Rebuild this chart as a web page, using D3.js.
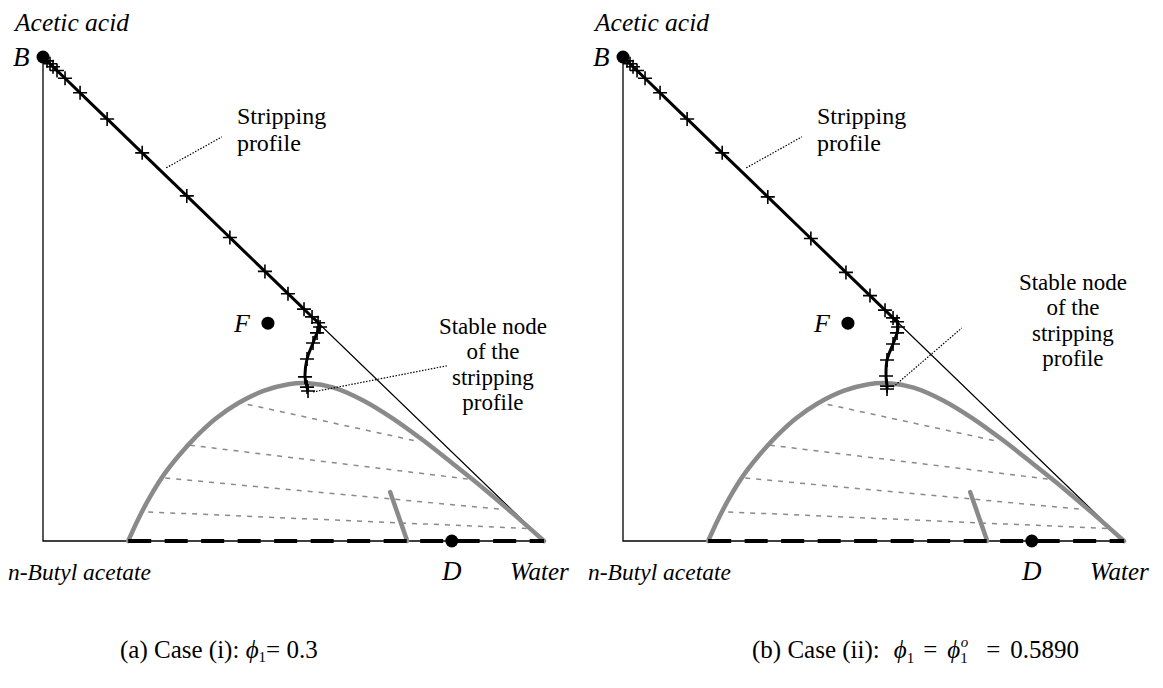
<!DOCTYPE html>
<html>
<head>
<meta charset="utf-8">
<script src="https://cdn.jsdelivr.net/npm/d3@7"></script>
<style>
  html, body { margin: 0; padding: 0; background: #fff; }
  svg { display: block; }
</style>
</head>
<body>
<svg id="chart" width="1163" height="688"></svg>
<script>
// Composition space: x = water mole fraction, y = acetic acid mole fraction
// (n-Butyl acetate is the remainder).

// Stripping profile, case (i)
const profileAx = [0.000, 0.008, 0.014, 0.020, 0.028, 0.044, 0.074, 0.128, 0.198, 0.287, 0.373, 0.443, 0.489, 0.521, 0.537, 0.549, 0.553, 0.547, 0.539, 0.527, 0.523, 0.527, 0.529];
const profileAy = [1.000, 0.992, 0.986, 0.980, 0.972, 0.956, 0.926, 0.872, 0.802, 0.713, 0.627, 0.557, 0.511, 0.479, 0.463, 0.451, 0.442, 0.430, 0.409, 0.376, 0.339, 0.318, 0.310];

// Stripping profile, case (ii)
const profileBx = [0.000, 0.008, 0.014, 0.020, 0.028, 0.044, 0.074, 0.128, 0.198, 0.289, 0.375, 0.445, 0.493, 0.523, 0.539, 0.547, 0.549, 0.547, 0.539, 0.527, 0.525, 0.527, 0.527];
const profileBy = [1.000, 0.992, 0.986, 0.980, 0.972, 0.956, 0.926, 0.872, 0.802, 0.711, 0.625, 0.555, 0.507, 0.477, 0.461, 0.453, 0.442, 0.430, 0.407, 0.374, 0.341, 0.320, 0.314];

// Liquid-liquid binodal curve
const binodalX = [0.170, 0.190, 0.213, 0.240, 0.270, 0.305, 0.345, 0.390, 0.440, 0.490, 0.530, 0.580, 0.640, 0.700, 0.760, 0.820, 0.880, 0.940, 1.000];
const binodalY = [0.000, 0.045, 0.090, 0.135, 0.175, 0.215, 0.253, 0.285, 0.310, 0.324, 0.326, 0.317, 0.290, 0.252, 0.207, 0.158, 0.108, 0.055, 0.000];

// Tie lines (organic end -> aqueous end)
const tieStartX = [0.387, 0.293, 0.244, 0.210];
const tieStartY = [0.287, 0.198, 0.130, 0.060];
const tieEndX   = [0.752, 0.848, 0.912, 0.966];
const tieEndY   = [0.205, 0.128, 0.066, 0.026];

// Distillation boundary segment
const boundaryX = [0.693, 0.727];
const boundaryY = [0.101, 0.000];

// Feed, distillate and bottoms compositions
const feedX = 0.449, feedY = 0.450;
const distX = 0.816, distY = 0.000;
const bottX = 0.000, bottY = 1.000;

// Liquid boundary on the binary edge
const splitX = [0.170, 1.000];
const splitY = [0.000, 0.000];

const captionA = ["(a) Case (i): ", "0.3"];
const captionB = ["(b) Case (ii):", "0.5890"];

const FONT = '"Liberation Serif", "Times New Roman", Tinos, "DejaVu Serif", serif';
const PHI = "\u03D5";

const svg = d3.select("#chart").attr("font-family", FONT);
const W = 501, H = 484;
const x = d3.scaleLinear().domain([0, 1]).range([0, W]);
const y = d3.scaleLinear().domain([0, 1]).range([H, 0]);

const panels = [
  { ox: 43,  px: profileAx, py: profileAy,
    stripLine: [[0.246, 0.771], [0.357, 0.835]], stripText: [0.387, 0.862],
    nodeLine: [[0.539, 0.308], [0.806, 0.362]], nodeText: [0.898, 0.428] },
  { ox: 623, px: profileBx, py: profileBy,
    stripLine: [[0.246, 0.771], [0.357, 0.835]], stripText: [0.387, 0.862],
    nodeLine: [[0.539, 0.318], [0.676, 0.440]], nodeText: [0.898, 0.519] }
];

const line = d3.line().x(d => x(d[0])).y(d => y(d[1]));
const smooth = d3.line().x(d => x(d[0])).y(d => y(d[1])).curve(d3.curveCatmullRom.alpha(0.5));

function label(g, txt, attrs) {
  const t = g.append("text").style("font-family", FONT).attr("fill", "#000");
  Object.entries(attrs).forEach(([k, v]) => t.attr(k, v));
  if (txt !== null) t.text(txt);
  return t;
}

panels.forEach((p, i) => {
  const g = svg.append("g").attr("transform", `translate(${p.ox},57)`);

  // triangle frame
  g.append("path")
    .attr("d", line([[0, 1], [0, 0], [1, 0], [0, 1]]))
    .attr("fill", "none").attr("stroke", "#000").attr("stroke-width", 1.3);

  // tie lines
  tieStartX.forEach((sx, k) => {
    g.append("path")
      .attr("d", line([[sx, tieStartY[k]], [tieEndX[k], tieEndY[k]]]))
      .attr("fill", "none").attr("stroke", "#8a8a8a").attr("stroke-width", 1.5)
      .attr("stroke-dasharray", "5,6");
  });

  // binodal
  g.append("path")
    .attr("d", smooth(binodalX.map((v, k) => [v, binodalY[k]])))
    .attr("fill", "none").attr("stroke", "#8a8a8a").attr("stroke-width", 4.5)
    .attr("stroke-linecap", "round");

  // distillation boundary
  g.append("path")
    .attr("d", line(boundaryX.map((v, k) => [v, boundaryY[k]])))
    .attr("fill", "none").attr("stroke", "#8a8a8a").attr("stroke-width", 4.5)
    .attr("stroke-linecap", "round");

  // binary edge segment
  g.append("path")
    .attr("d", line(splitX.map((v, k) => [v, splitY[k]])))
    .attr("fill", "none").attr("stroke", "#000").attr("stroke-width", 4)
    .attr("stroke-dasharray", "23,13.5");

  // stripping profile
  const pts = p.px.map((v, k) => [v, p.py[k]]);
  g.append("path")
    .attr("d", smooth(pts))
    .attr("fill", "none").attr("stroke", "#000").attr("stroke-width", 3);
  g.selectAll(".cross" + i).data(pts.slice(1)).enter().append("path")
    .attr("transform", d => `translate(${x(d[0])},${y(d[1])})`)
    .attr("d", "M-7,0H7M0,-7V7")
    .attr("stroke", "#000").attr("stroke-width", 1.6).attr("fill", "none");

  // points
  [[bottX, bottY], [feedX, feedY], [distX, distY]].forEach(d => {
    g.append("circle").attr("cx", x(d[0])).attr("cy", y(d[1])).attr("r", 6.5).attr("fill", "#000");
  });

  // annotation leaders
  [p.stripLine, p.nodeLine].forEach(l => {
    g.append("path").attr("d", line(l))
      .attr("fill", "none").attr("stroke", "#000").attr("stroke-width", 1.2)
      .attr("stroke-dasharray", "1.5,1.5");
  });

  // annotation text
  const st = label(g, null, { x: x(p.stripText[0]), y: y(p.stripText[1]), "font-size": 24 });
  st.append("tspan").attr("x", x(p.stripText[0])).text("Stripping");
  st.append("tspan").attr("x", x(p.stripText[0])).attr("dy", 27).text("profile");

  const nt = label(g, null, { "text-anchor": "middle", "font-size": 23, y: y(p.nodeText[1]) });
  ["Stable node", "of the", "stripping", "profile"].forEach((s, k) => {
    nt.append("tspan").attr("x", x(p.nodeText[0])).attr("dy", k ? 25.5 : 0).text(s);
  });

  // vertex and point labels
  label(g, "Acetic acid", { x: -28, y: -26, "font-size": 25.5, "font-style": "italic" });
  label(g, "B", { x: -30, y: 9, "font-size": 27, "font-style": "italic" });
  label(g, "F", { x: x(feedX) - 34, y: y(feedY) + 9, "font-size": 26, "font-style": "italic" });
  label(g, "D", { x: x(distX), y: H + 39, "text-anchor": "middle", "font-size": 27, "font-style": "italic" });
  label(g, "n-Butyl acetate", { x: -35, y: H + 39, "font-size": 23.5, "font-style": "italic" });
  label(g, "Water", { x: W - 34, y: H + 39, "font-size": 25, "font-style": "italic" });
});

// captions
const capA = label(svg, null, { x: 120, y: 658, "font-size": 25 });
capA.append("tspan").text(captionA[0]);
capA.append("tspan").attr("font-style", "italic").text(PHI);
capA.append("tspan").attr("font-size", 15).attr("dy", 4).text("1");
capA.append("tspan").attr("dy", -4).text("= " + captionA[1]);

const capB = label(svg, null, { x: 752, y: 658, "font-size": 25 });
capB.append("tspan").text(captionB[0]);
capB.append("tspan").attr("dx", 14).attr("font-style", "italic").text(PHI);
capB.append("tspan").attr("font-size", 15).attr("dy", 5).text("1");
capB.append("tspan").attr("dx", 9).attr("dy", -5).text("=");
capB.append("tspan").attr("dx", 10).attr("font-style", "italic").text(PHI);
capB.append("tspan").attr("font-size", 15).attr("dy", 5).text("1");
capB.append("tspan").attr("font-size", 15).attr("font-style", "italic").attr("dx", -7).attr("dy", -16).text("o");
capB.append("tspan").attr("dx", 18).attr("dy", 11).text("=");
capB.append("tspan").attr("dx", 10).text(captionB[1]);
</script>
</body>
</html>
